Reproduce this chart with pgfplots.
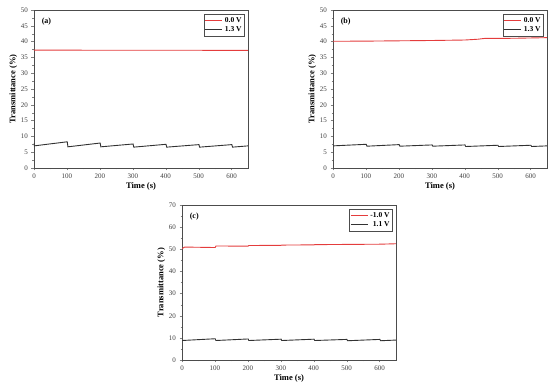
\documentclass[border=0pt]{standalone}
\usepackage{fontspec}
\setmainfont{Liberation Serif}
\usepackage{pgfplots}
\pgfplotsset{compat=1.18}
\definecolor{myred}{RGB}{228,60,60}
\definecolor{mygray}{RGB}{50,50,50}
\pgfplotsset{
  panel/.style={
    scale only axis, width=214pt, height=158pt,
    xmin=0, xmax=650,
    xtick={0,100,...,600},
    minor x tick num=1, minor y tick num=1,
    tick align=outside, tick pos=left,
    major tick length=2.5pt, minor tick length=1.5pt,
    /pgf/number format/assume math mode=true,
    tick label style={font=\fontsize{7}{8}\selectfont, text=black!75},
    label style={font=\fontsize{8.5}{10}\selectfont\bfseries},
    xlabel={Time (s)}, ylabel={Transmittance (\%)},
    xlabel style={yshift=3pt},
    ylabel style={yshift=-3pt},
    axis line style={black!70},
    legend style={at={(0.985,0.975)}, anchor=north east, font=\fontsize{7.5}{8}\selectfont\bfseries,
      draw=black!70, inner sep=1pt, row sep=-1pt, legend cell align=right},
    legend image post style={},
    every axis plot/.append style={line width=0.9pt},
  }
}
\begin{document}
\begin{tikzpicture}[x=1pt,y=1pt]
\useasboundingbox (0,0) rectangle (550,391);
% (a)
\begin{axis}[panel, at={(34pt,223pt)}, anchor=south west,
  ymin=0, ymax=50, ytick={0,5,...,50}]
\addplot[myred] coordinates {(0,37.3)(100,37.3)(200,37.25)(300,37.25)(400,37.25)(500,37.25)(650,37.2)};
\addplot[mygray] coordinates {(0,7.9)(1,7.0)(101,8.3)(103,6.7)(201,7.9)(203,6.7)(301,7.6)(303,6.6)(401,7.5)(403,6.6)(501,7.4)(503,6.6)(601,7.4)(603,6.6)(650,7.0)};
\legend{0.0 V,1.3 V}
\node[anchor=north west, font=\fontsize{8}{9}\selectfont\bfseries] at (axis description cs:0.02,0.97) {(a)};
\end{axis}
% (b)
\begin{axis}[panel, at={(333pt,223pt)}, anchor=south west,
  ymin=0, ymax=50, ytick={0,5,...,50}]
\addplot[myred] coordinates {(0,40.1)(100,40.15)(200,40.25)(300,40.35)(400,40.5)(440,40.75)(460,41.0)(550,41.05)(650,41.25)};
\addplot[mygray] coordinates {(0,7.0)(101,7.5)(103,6.9)(201,7.4)(203,6.9)(301,7.3)(303,6.9)(401,7.3)(403,6.8)(501,7.2)(503,6.8)(601,7.2)(603,6.8)(650,7.0)};
\legend{0.0 V,1.3 V}
\node[anchor=north west, font=\fontsize{8}{9}\selectfont\bfseries] at (axis description cs:0.02,0.97) {(b)};
\end{axis}
% (c)
\begin{axis}[panel, at={(182pt,31pt)}, anchor=south west, height=155pt,
  ymin=0, ymax=70, ytick={0,10,...,70}]
\addplot[myred] coordinates {(0,50.3)(8,51.0)(101,50.8)(103,51.5)(201,51.4)(203,51.7)(301,51.8)(303,51.9)(401,52.0)(403,52.1)(501,52.2)(503,52.2)(601,52.3)(650,52.5)};
\addplot[mygray] coordinates {(0,8.8)(101,9.6)(103,8.8)(201,9.5)(203,8.8)(301,9.4)(303,8.8)(401,9.4)(403,8.8)(501,9.3)(503,8.7)(601,9.3)(603,8.7)(650,9.0)};
\legend{-1.0 V,1.1 V}
\node[anchor=north west, font=\fontsize{8}{9}\selectfont\bfseries] at (axis description cs:0.02,0.97) {(c)};
\end{axis}
\end{tikzpicture}
\end{document}
